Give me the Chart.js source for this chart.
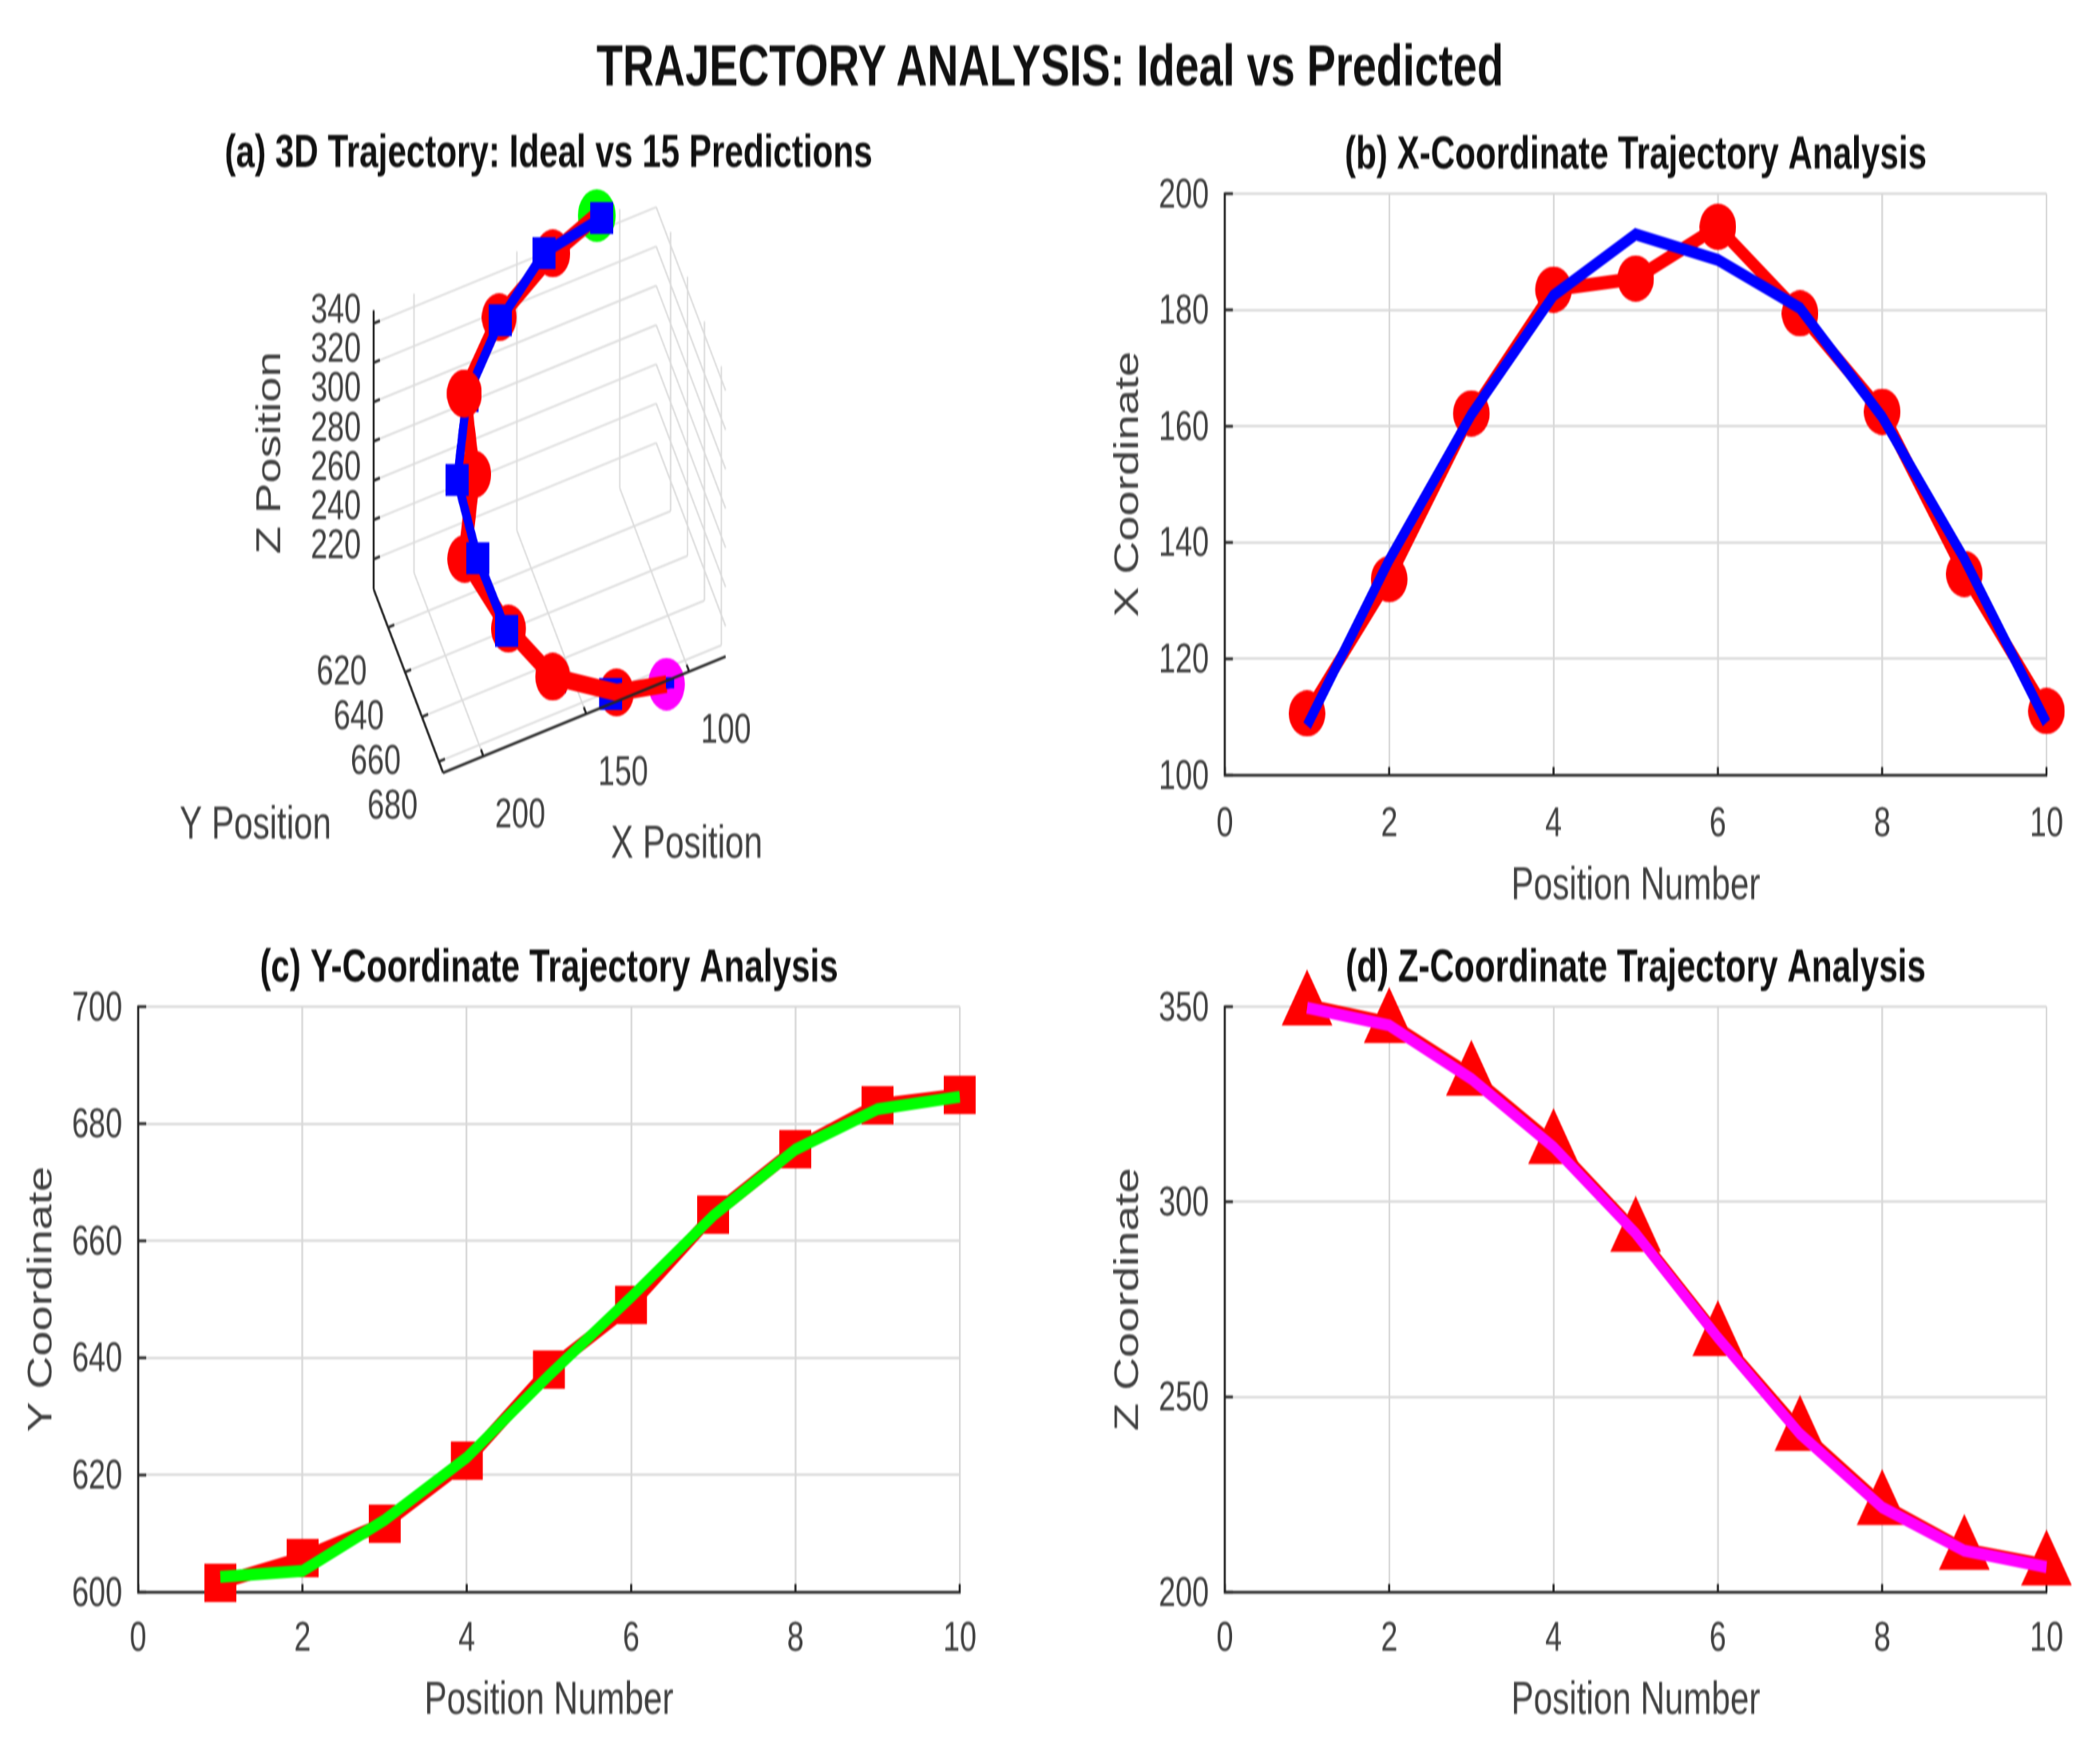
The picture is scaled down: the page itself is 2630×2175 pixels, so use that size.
<!DOCTYPE html>
<html><head><meta charset="utf-8">
<script src="https://cdn.jsdelivr.net/npm/chart.js@4"></script>
<style>
html,body{margin:0;padding:0;background:#fff;width:2630px;height:2175px;overflow:hidden}
canvas{position:absolute;left:0;top:0;transform-origin:0 0;transform:scaleX(.74);filter:blur(.9px)}
#sup{position:absolute;left:0;width:2630px;top:44px;text-align:center;font:bold 73px "Liberation Sans";color:#111;line-height:76px;white-space:nowrap;transform:scaleX(.74);filter:blur(.9px)}
</style></head><body>
<div id="sup">TRAJECTORY ANALYSIS: Ideal vs Predicted</div>
<canvas id="ca"></canvas><canvas id="cb"></canvas><canvas id="cc"></canvas><canvas id="cd"></canvas>
<script>
const positions=[1,2,3,4,5,6,7,8,9,10];
const xPredicted=[110.6,133.7,162.2,183.5,185.4,194.3,179.4,162.5,134.6,111];
const xIdeal=[108.5,137,162,182.5,193,188.6,180.3,161.6,137.2,109];
const yPredicted=[601.6,605.8,611.7,622.4,638,649,664.5,675.7,683.2,684.9];
const yIdeal=[602.6,603.6,612.3,623,637,650.4,664.3,675.6,682.5,684.6];
const zPredicted=[350.5,346,332.5,315,292.5,265.8,241.5,222.5,211,207];
const zIdeal=[349.7,345.2,331.5,314,291.9,265.2,240.5,221.7,210.6,206.4];
const xTicks3D=[100,150,200], yTicks3D=[620,640,660,680], zTicks3D=[220,240,260,280,300,320,340];

const K=0.74,W=2630/K,H=2175,FONT='"Liberation Sans"',TXT='#404040',AXIS='#262626',GRID='#d9d9d9';
const TITLE_SIZE=57,TITLE_LH=1.2;
Chart.defaults.devicePixelRatio=1;
['ca','cb','cc','cd'].forEach(id=>{const c=document.getElementById(id);c.width=W;c.height=H;});

function marker(kind,wReal,h,color,below){
  const w=Math.round(wReal/K),c=document.createElement('canvas');c.width=w;c.height=h+(below||0);const g=c.getContext('2d');g.fillStyle=color;g.beginPath();
  if(kind==='circle')g.ellipse(w/2,h/2,w/2,h/2,0,0,Math.PI*2);
  if(kind==='square')g.rect(0,0,w,h);
  if(kind==='triangle'){g.moveTo(w/2,0);g.lineTo(w,h);g.lineTo(0,h);g.closePath();}
  g.fill();return c;
}
const pts=(xs,ys)=>xs.map((x,i)=>({x,y:ys[i]}));
const innerTicks={id:'innerTicks',beforeDatasetsDraw(ch){
  const g=ch.ctx,a=ch.chartArea;g.save();g.strokeStyle=AXIS;g.lineWidth=3.5;g.beginPath();
  ch.scales.x.ticks.forEach(t=>{const p=ch.scales.x.getPixelForValue(t.value);g.moveTo(p,a.bottom);g.lineTo(p,a.bottom-10);});
  ch.scales.y.ticks.forEach(t=>{const p=ch.scales.y.getPixelForValue(t.value);g.moveTo(a.left,p);g.lineTo(a.left+10/K,p);});
  g.stroke();g.restore();}};
const titleOpts=(text,size,top,centerY)=>({display:true,text,fullSize:false,color:'#111',font:{family:FONT,size,weight:'bold',lineHeight:TITLE_LH},padding:{top:0,bottom:top-centerY-size*TITLE_LH/2}});

function panel(id,box,title,yTitle,yMin,yMax,yStep,datasets){
  const yW=150/K,xH=box.xh,cy=box.t-47;
  return new Chart(document.getElementById(id),{type:'scatter',data:{datasets},plugins:[innerTicks],options:{
    responsive:false,animation:false,
    layout:{padding:{left:box.l/K-yW,right:W-box.r/K,top:cy-TITLE_SIZE*TITLE_LH/2,bottom:H-box.b-xH}},
    plugins:{legend:{display:false},tooltip:{enabled:false},title:titleOpts(title,TITLE_SIZE,box.t,cy)},
    scales:{
      x:{type:'linear',min:0,max:10,afterFit(s){s.height=xH},
        ticks:{stepSize:2,padding:box.tp,color:TXT,font:{family:FONT,size:51,lineHeight:1},maxRotation:0,autoSkip:false},
        grid:{color:GRID,lineWidth:3,drawTicks:false},border:{color:AXIS,width:3.5},
        title:{display:true,text:'Position Number',color:TXT,font:{family:FONT,size:57,lineHeight:1},padding:{top:4,bottom:0}}},
      y:{type:'linear',min:yMin,max:yMax,afterFit(s){s.width=yW},
        ticks:{stepSize:yStep,padding:27,labelOffset:3,color:TXT,font:{family:FONT,size:51,lineHeight:1},autoSkip:false},
        grid:{color:GRID,lineWidth:3,drawTicks:false},border:{color:AXIS,width:3.5},
        title:{display:true,text:yTitle,color:TXT,font:{family:FONT,size:57,lineHeight:1},padding:{top:12,bottom:0}}}
    }}});
}
const lineDs=(data,color,width,extra)=>Object.assign({data,showLine:true,borderColor:color,backgroundColor:color,borderWidth:width,pointRadius:0,clip:false,tension:0},extra||{});
const redMarks=(data,img,w)=>lineDs(data,'#ff0000',w,{pointStyle:img,pointRadius:28,borderJoinStyle:'round'});

panel('cb',{l:1534,r:2563,t:242.5,b:970.5,xh:168,tp:37},'(b) X-Coordinate Trajectory Analysis','X Coordinate',100,200,20,[
  lineDs(pts(positions,xIdeal),'#0000ff',15),
  redMarks(pts(positions,xPredicted),marker('circle',46,58,'#ff0000'),17)]);
panel('cc',{l:173,r:1202,t:1260.5,b:1993.5,xh:165,tp:34},'(c) Y-Coordinate Trajectory Analysis','Y Coordinate',600,700,20,[
  lineDs(pts(positions,yIdeal),'#00ff00',15),
  redMarks(pts(positions,yPredicted),marker('square',40,48,'#ff0000'),17)]);
panel('cd',{l:1534,r:2563,t:1260.5,b:1993.5,xh:165,tp:34},'(d) Z-Coordinate Trajectory Analysis','Z Coordinate',200,350,50,[
  lineDs(pts(positions,zIdeal),'#ff00ff',15),
  redMarks(pts(positions,zPredicted),marker('triangle',64,70,'#ff0000',18),15)]);

/* panel (a): the 3D box is projected on to a plane and plotted through hidden linear scales */
const X_MAX=219.6,X_MIN=82.3,Y_MIN=603,Y_MAX=685,Z_MIN=204.6,Z_MAX=346.7,MARK_Z_SHIFT=4.2;
function project(x,y,z){return {x:(468+(X_MAX-x)*2.577+(y-Y_MIN)*1.06)/K, y:738-(X_MAX-x)*1.06+(y-Y_MIN)*2.8-(z-Z_MIN)*2.46};}
const seg=(list,a,b)=>{list.push(project(...a),project(...b),{x:NaN,y:NaN});};
const gridSegs=[],axisSegs=[];
xTicks3D.forEach(t=>{seg(gridSegs,[t,Y_MIN,Z_MIN],[t,Y_MAX,Z_MIN]);seg(gridSegs,[t,Y_MIN,Z_MIN],[t,Y_MIN,Z_MAX]);seg(axisSegs,[t,Y_MAX,Z_MIN],[t,Y_MAX-3,Z_MIN]);});
yTicks3D.forEach(t=>{seg(gridSegs,[X_MAX,t,Z_MIN],[X_MIN,t,Z_MIN]);seg(gridSegs,[X_MIN,t,Z_MIN],[X_MIN,t,Z_MAX]);seg(axisSegs,[X_MAX,t,Z_MIN],[X_MAX-3,t,Z_MIN]);});
zTicks3D.forEach(t=>{seg(gridSegs,[X_MAX,Y_MIN,t],[X_MIN,Y_MIN,t]);seg(gridSegs,[X_MIN,Y_MIN,t],[X_MIN,Y_MAX,t]);seg(axisSegs,[X_MAX,Y_MIN,t],[X_MAX-3,Y_MIN,t]);});
seg(axisSegs,[X_MAX,Y_MIN,Z_MIN],[X_MAX,Y_MIN,Z_MAX]);seg(axisSegs,[X_MAX,Y_MIN,Z_MIN],[X_MAX,Y_MAX,Z_MIN]);seg(axisSegs,[X_MAX,Y_MAX,Z_MIN],[X_MIN,Y_MAX,Z_MIN]);

const ideal3D=positions.map((_,i)=>project(xIdeal[i],yIdeal[i],zIdeal[i]-MARK_Z_SHIFT));
const pred3D=positions.map((_,i)=>project(xPredicted[i],yPredicted[i],zPredicted[i]-MARK_Z_SHIFT));
const redDot=marker('circle',44,60,'#ff0000'),blueSq=marker('square',29,40,'#0000ff'),tinySq=marker('square',10,14,'#0000ff');
const axisLabels3D={id:'axisLabels3D',afterDraw(ch){
  const g=ch.ctx;g.save();g.fillStyle=TXT;g.textBaseline='middle';
  g.font='51px '+FONT;g.textAlign='right';
  zTicks3D.forEach(t=>{const p=project(X_MAX,Y_MIN,t);g.fillText(String(t),p.x-16/K,p.y-15);});
  g.textAlign='center';
  yTicks3D.forEach(t=>{const p=project(X_MAX,t,Z_MIN);g.fillText(String(t),p.x-58/K,p.y+57);});
  xTicks3D.forEach(t=>{const p=project(t,Y_MAX,Z_MIN);g.fillText(String(t),p.x+46/K,p.y+75);});
  g.font='57px '+FONT;g.fillText('Y Position',320/K,1034);g.fillText('X Position',860/K,1058);
  g.translate(339/K,567);g.rotate(-Math.PI/2);g.fillText('Z Position',0,0);
  g.restore();}};
const overIdx=[0,1,2,3,4,5,6];
/* first dataset is painted last */
new Chart(document.getElementById('ca'),{type:'scatter',plugins:[axisLabels3D],data:{datasets:[
  lineDs(axisSegs,AXIS,3.5),
  lineDs([ideal3D[9]],'#0000ff',1,{showLine:false,pointStyle:tinySq,pointRadius:10}),
  lineDs([pred3D[3]],'#ff0000',1,{showLine:false,pointStyle:redDot,pointRadius:28}),
  lineDs(overIdx.map(i=>ideal3D[i]),'#0000ff',14,{pointStyle:blueSq,pointRadius:overIdx.map(i=>i===3?0:20)}),
  lineDs(pred3D,'#ff0000',22,{pointStyle:redDot,pointRadius:pred3D.map((_,i)=>(i===0||i===8||i===9)?0:28),borderJoinStyle:'round'}),
  lineDs(ideal3D,'#0000ff',14,{pointStyle:blueSq,pointRadius:ideal3D.map((_,i)=>i===9?0:20)}),
  lineDs([pred3D[8]],'#ff0000',1,{showLine:false,pointStyle:redDot,pointRadius:28}),
  lineDs([pred3D[0]],'#00ff00',1,{showLine:false,pointStyle:marker('circle',47,66,'#00ff00'),pointRadius:28}),
  lineDs([pred3D[9]],'#ff00ff',1,{showLine:false,pointStyle:marker('circle',46,66,'#ff00ff'),pointRadius:28}),
  lineDs(gridSegs,'#dcdcdc',2.5)
]},options:{responsive:false,animation:false,
  layout:{padding:{left:200/K,right:W-1174/K,top:193-TITLE_SIZE*TITLE_LH/2,bottom:H-1000}},
  plugins:{legend:{display:false},tooltip:{enabled:false},title:titleOpts('(a) 3D Trajectory: Ideal vs 15 Predictions',TITLE_SIZE,241,193)},
  scales:{x:{type:'linear',display:false,min:200/K,max:1174/K},y:{type:'linear',display:false,reverse:true,min:241,max:1000}}
}});
</script>
</body></html>
